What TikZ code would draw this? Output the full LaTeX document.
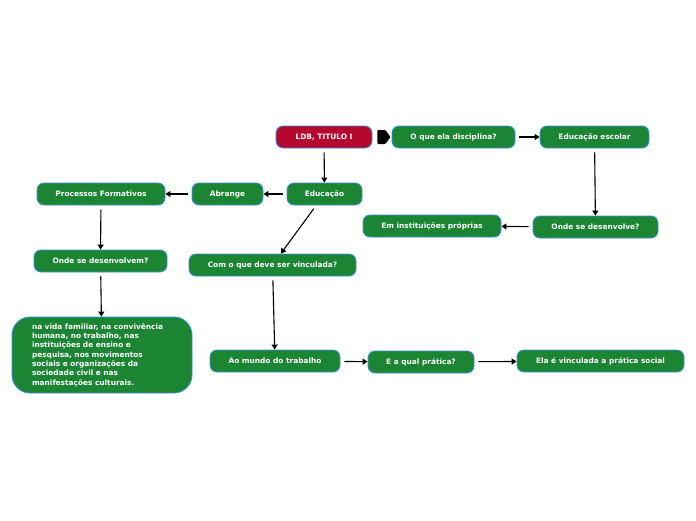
\documentclass[tikz,border=0pt]{standalone}
\usepackage{fontspec}
\setmainfont{DejaVu Sans}
\usepackage{xcolor}
\definecolor{rootred}{HTML}{B5082E}
\definecolor{topicgreen}{HTML}{1B8533}
\definecolor{edgeblue}{HTML}{3B8FD9}
\definecolor{inkdark}{HTML}{000000}
\usetikzlibrary{positioning,arrows.meta}

\begin{document}
\begin{tikzpicture}[x=1pt, y=-1pt, font=\fontsize{7.4}{9.3}\selectfont\bfseries,
  topic/.style={draw=edgeblue, line width=0.9pt, fill=topicgreen, text=white,
    rounded corners=7pt, minimum height=22pt, inner sep=2pt},
  root/.style={topic, fill=rootred},
  link/.style={inkdark, line width=1.1pt, shorten <=4pt, -{Triangle[length=5pt, width=6pt]}}]
  \useasboundingbox (0,0) rectangle (696,520);
  % Root and first row
  \node[root, minimum width=96pt] (ldb) at (324,137) {LDB, TITULO I};
  \node[topic, minimum width=123pt] (disc) at (453.5,137) {O que ela disciplina?};
  \node[topic, minimum width=109pt] (escolar) at (594.5,137) {Educação escolar};
  % Second row
  \node[topic, minimum width=75pt] (educ) at (324.5,194) {Educação};
  \node[topic, minimum width=71pt] (abrange) at (227.5,194) {Abrange};
  \node[topic, minimum width=128pt] (proc) at (101,194) {Processos Formativos};
  \node[topic, minimum width=138pt] (inst) at (432,226) {Em instituições próprias};
  \node[topic, minimum width=125pt] (ondeA) at (595.5,227) {Onde se desenvolve?};
  % Third row
  \node[topic, minimum width=133pt] (ondeB) at (100.5,261) {Onde se desenvolvem?};
  \node[topic, minimum width=167pt] (vinc) at (272.5,265) {Com o que deve ser vinculada?};
  \node[topic, minimum width=180pt, minimum height=76pt, rounded corners=18pt,
    text width=140pt, align=left, inner sep=0pt] (lugares) at (102,355)
    {na vida familiar, na convivência\\humana, no trabalho, nas\\instituições de ensino e\\pesquisa, nos movimentos\\sociais e organizações da\\sociedade civil e nas\\manifestações culturais.};
  % Bottom row
  \node[topic, minimum width=130pt] (mundo) at (275,361) {Ao mundo do trabalho};
  \node[topic, minimum width=106pt] (pratica) at (421,362) {E a qual prática?};
  \node[topic, minimum width=167pt] (social) at (600.5,361) {Ela é vinculada a prática social};
  % Connectors
  \fill[inkdark, rounded corners=1pt] (ldb.east) ++(5,-7) -- ++(8,0) -- ++(5,7)
    -- ++(-5,7) -- ++(-8,0) -- cycle;
  \draw[link] (disc) -- (escolar);
  \draw[link] (escolar) -- (ondeA);
  \draw[link] (ondeA) -- (inst);
  \draw[link] (ldb) -- (educ);
  \draw[link] (educ) -- (abrange);
  \draw[link] (abrange) -- (proc);
  \draw[link] (proc) -- (ondeB);
  \draw[link] (ondeB) -- (lugares);
  \draw[link] (educ) -- (vinc);
  \draw[link] (vinc) -- (mundo);
  \draw[link] (mundo) -- (pratica);
  \draw[link] (pratica) -- (social);
\end{tikzpicture}
\end{document}
